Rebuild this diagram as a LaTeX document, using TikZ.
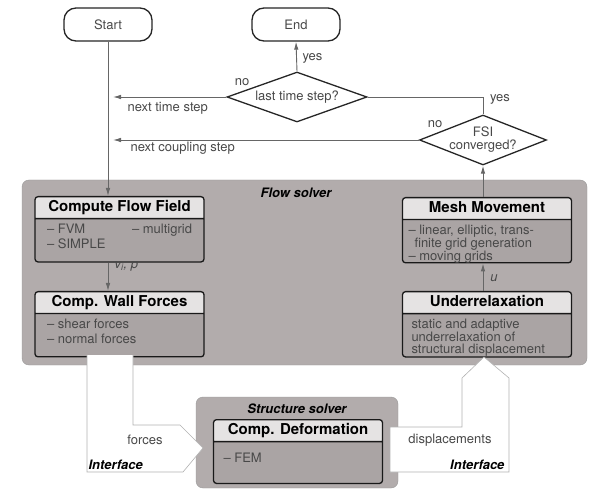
\documentclass[tikz,border=0pt]{standalone}
\usepackage{fontspec}
\setmainfont{TeX Gyre Heros}
\usepackage{tikz}
\usetikzlibrary{arrows.meta, shapes.geometric, shapes.multipart}

\definecolor{panelgray}{RGB}{178,172,172}
\definecolor{bodygray}{RGB}{170,164,164}
\definecolor{headgray}{RGB}{229,227,227}
\definecolor{inkgray}{RGB}{72,72,72}

\newcommand{\procbody}[2]{{\color{inkgray}\parbox[t][34.5pt][t]{157pt}{%
  \normalfont\fontsize{13}{#1}\selectfont #2}}}

\begin{document}
\begin{tikzpicture}[x=1pt, y=-1pt,
  term/.style = {draw=black!85, line width=1.3pt, rounded corners=12pt,
        fill=white, minimum width=88pt, minimum height=33pt, text=inkgray},
  decision/.style = {diamond, draw=black!85, line width=1.3pt,
        fill=white, inner sep=0pt},
  panel/.style = {draw=black!40, fill=panelgray, rounded corners=7pt},
  proc/.style = {rectangle split, rectangle split parts=2,
        draw=black!90, line width=1.3pt, rounded corners=3pt,
        rectangle split part fill={headgray,bodygray},
        inner xsep=6pt, inner ysep=3pt, anchor=north,
        font=\bfseries\fontsize{15}{15}\selectfont,
        execute at begin node={\rule[-3.5pt]{0pt}{14.5pt}}},
  iface/.style = {draw=black!30, line width=0.6pt},
  lbl/.style = {text=inkgray},
  solver/.style = {font=\bfseries\itshape}]
 \fontsize{13}{15}\selectfont
 \useasboundingbox (0,0) rectangle (592,489);

 \node[term] (start) at (108,24.5) {Start};
 \node[term] (end) at (296,24.5) {End};
 \node[decision, minimum width=140pt, minimum height=50pt,
       label={[lbl]center:last time step?}] (lts) at (297,97) {};
 \node[decision, minimum width=127pt, minimum height=50pt,
       label={[lbl, align=center, font=\fontsize{13}{13}\selectfont]center:FSI\\converged?}]
       (fsi) at (483,140) {};

 % solver panels
 \node[panel, minimum width=565pt, minimum height=185pt] (flow) at (304.5,272.5) {};
 \node[panel, minimum width=202pt, minimum height=91pt] (struct) at (297,442.5) {};
 \node[solver] (flowtitle) at (296,193) {Flow solver};
 \node[solver] (structtitle) at (297,409) {Structure solver};

 \node[proc] (cff) at (119.5,196) {Compute Flow Field
   \nodepart{two}\procbody{15}{\hspace*{6pt}– FVM \hfill – multigrid\hspace*{6pt}\\
                               \hspace*{6pt}– SIMPLE}};
 \node[proc] (cwf) at (119.5,291) {Comp. Wall Forces
   \nodepart{two}\procbody{15}{\hspace*{6pt}– shear forces\\
                               \hspace*{6pt}– normal forces}};
 \node[proc] (mesh) at (487,197) {Mesh Movement
   \nodepart{two}\procbody{11.8}{– linear, elliptic, trans-\\
                                 \hspace*{6pt}finite grid generation\\
                                 – moving grids}};
 \node[proc] (under) at (487,291) {Underrelaxation
   \nodepart{two}\procbody{12.3}{\hspace*{3pt}static and adaptive\\
                                 \hspace*{3pt}underrelaxation of\\
                                 \hspace*{3pt}structural displacement}};

 % interface arrows
 \path[fill=white] (87,355) -- (133,355) -- (133,425) -- (180,425) -- (203,448)
       -- (183,472) -- (87,472) -- cycle;
 \draw[iface] (133,355) -- (133,425) -- (180,425) -- (203,448)
       -- (183,472) -- (87,472) -- (87,355);
 \draw[iface, fill=white] (390,427) -- (462,427) -- (462,378) -- (484,357)
       -- (509,378) -- (509,472) -- (390,472) -- cycle;

 \node[proc] (cdef) at (298,419) {Comp. Deformation
   \nodepart{two}\procbody{15}{\rule{0pt}{17pt}\hspace*{4pt}– FEM}};

 \node[lbl] (forces) at (145,440) {forces};
 \node[lbl] (displ) at (450,440) {displacements};
 \node[solver, anchor=west] (ifleft) at (84,465) {Interface};
 \node[solver, anchor=east] (ifright) at (509,465) {Interface};

 \node[lbl, anchor=west] (yesend) at (298,58) {yes};
 \node[lbl] (nolts) at (242,82) {no};
 \node[lbl, anchor=west] (ntime) at (123,108) {next time step};
 \node[lbl] (yesfsi) at (500,99) {yes};
 \node[lbl] (nofsi) at (435,124) {no};
 \node[lbl, anchor=west] (ncoup) at (126,148) {next coupling step};
 \node[lbl, anchor=west] (vp) at (110,266) {\textit{v\textsubscript{i}, p}};
 \node[lbl] (ulbl) at (494,278) {\textit{u}};

 \begin{scope}[-{Latex[length=8pt,width=4.5pt]}, draw=black!60, line width=0.9pt]
  \draw (start.south) -- (start.south |- cff.north);
  \draw (start.south |- cff.south) -- (start.south |- cwf.north);
  \draw (lts.north) -- (end.south);
  \draw[shorten >=5pt] (lts.west) -- (lts.west -| start.south);
  \draw[shorten >=5pt] (fsi.west) -- (fsi.west -| start.south);
  \draw (fsi.south |- under.north) -- (fsi.south |- mesh.south);
  \draw (fsi.south |- mesh.north) -- (fsi.south);
  \draw[-] (lts.east) -| (fsi.north);
 \end{scope}
\end{tikzpicture}
\end{document}
